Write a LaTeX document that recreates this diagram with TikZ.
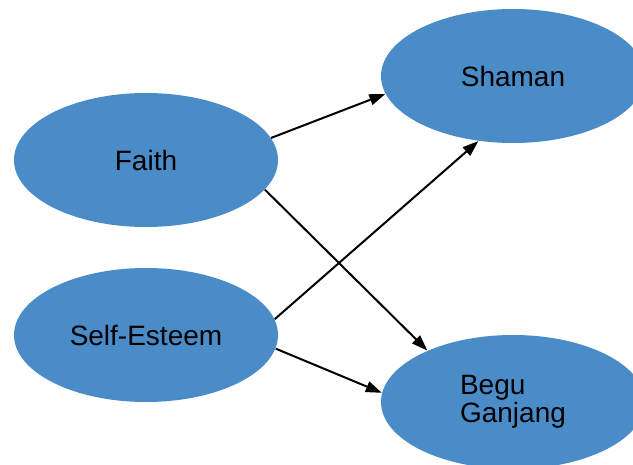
\documentclass[tikz,border=0pt]{standalone}
\usepackage{fontspec}
\setmainfont{Liberation Sans}
\usepackage{xcolor}
\usetikzlibrary{
	shapes.geometric,					% Ellipse nodes
	arrows.meta							% Advanced arrows
}
\definecolor{nodeblue}{HTML}{4A8CC8}

\begin{document}
\begin{tikzpicture}
		[
		,x=0.5pt
		,y=-0.5pt
		,construct/.style = {
			,ellipse
			,fill=nodeblue
			,draw=none
			,minimum width=132pt
			,minimum height=67pt
			,inner sep=0pt
			,font=\fontsize{14pt}{13pt}\selectfont}
		,path_arrow/.style = {
			,-{Triangle[length=8pt, width=5.5pt]}
			,line width=1pt
			,black}
		]
		
		% Canvas
		\useasboundingbox (0,0) rectangle (633,465);
		
		% Constructs
		\node [construct]             (faith)  at (146,160) {Faith};
		\node [construct]             (esteem) at (146,335) {Self-Esteem};
		\node [construct]             (shaman) at (513,76)  {Shaman};
		\node [construct, align=left] (begu)   at (513,402) {Begu\\Ganjang};
		
		% Paths
		\draw [path_arrow] (faith.10)   -- (shaman.188);
		\draw [path_arrow] (faith.346)  -- (begu.149);
		\draw [path_arrow] (esteem.7)   -- (shaman.242);
		\draw [path_arrow] (esteem.354) -- (begu.176);
	\end{tikzpicture}
\end{document}
